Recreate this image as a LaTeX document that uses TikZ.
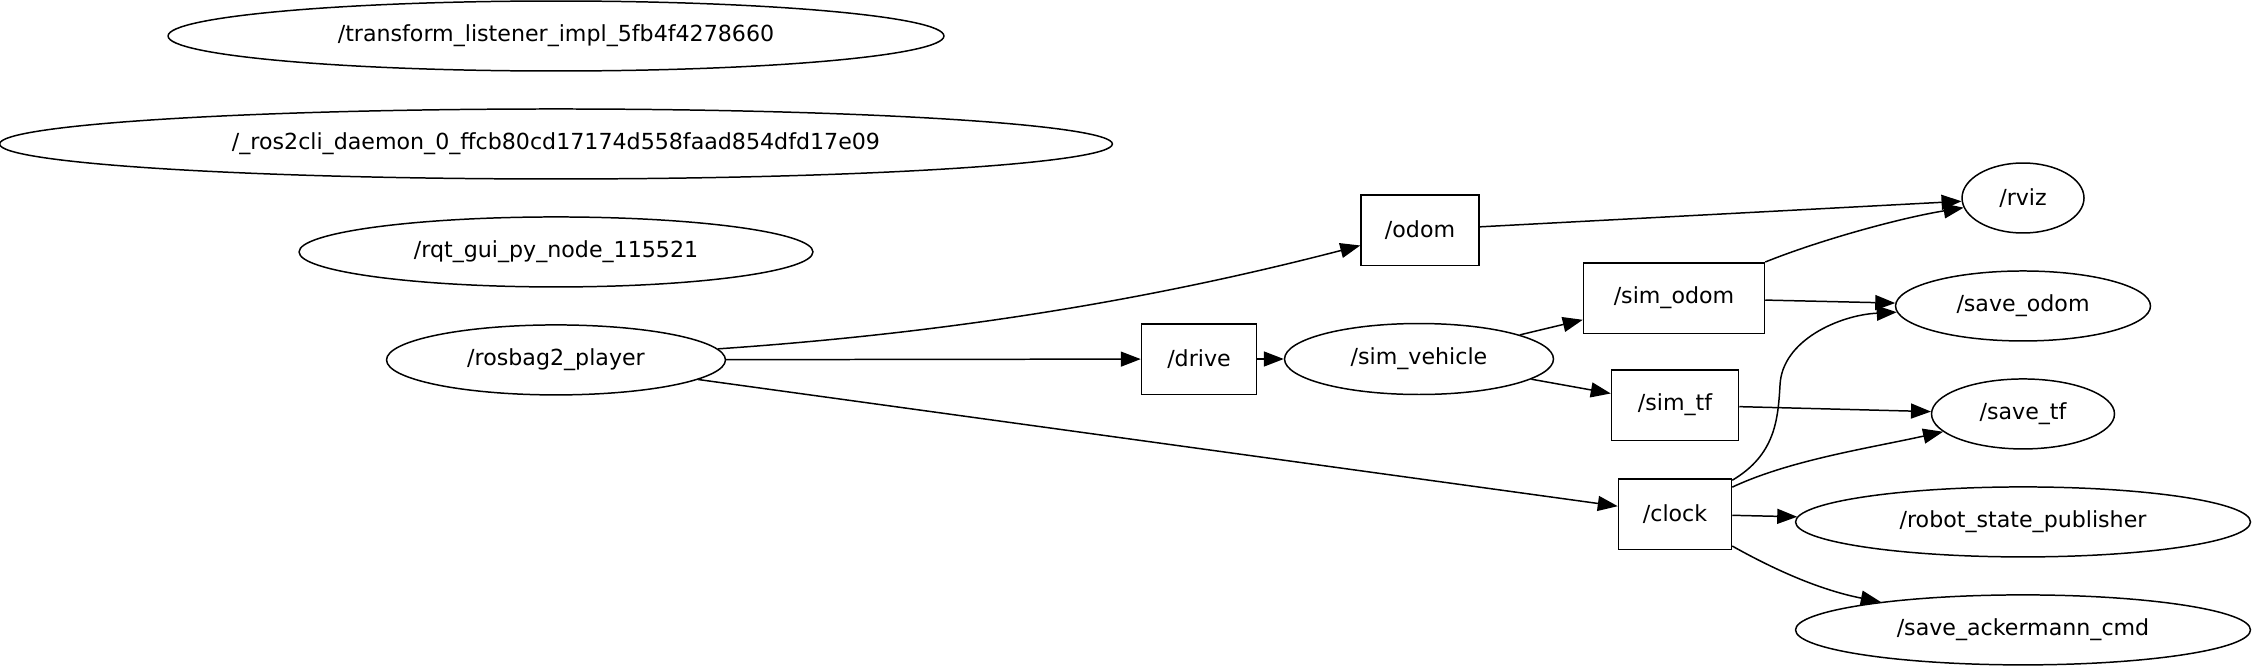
\documentclass[tikz,border=0pt]{standalone}
\usepackage{fontspec}
\setmainfont{DejaVu Sans}
\usetikzlibrary{arrows.meta,positioning,shapes.geometric}
\tikzset{
    rosnode/.style={draw, ellipse, line width=0.85pt, inner sep=0pt,
        minimum height=1.4cm, font=\fontsize{12.6}{15}\selectfont},
    rostopic/.style={draw, rectangle, line width=0.85pt, inner sep=0pt,
        minimum height=1.41cm, font=\fontsize{12.6}{15}\selectfont},
    rosarrow/.style={-{Triangle[length=0.4cm, width=0.3cm]}, line width=0.85pt}
}
\begin{document}
\begin{tikzpicture}[x=0.02cm, y=-0.02cm, node distance=0.73cm]
\useasboundingbox (0,0) rectangle (2253,666);
% left column of nodes
\node[rosnode, minimum width=15.52cm] (listener) at (556,36) {/transform\_listener\_impl\_5fb4f4278660};
\node[rosnode, minimum width=22.26cm, below=of listener] (daemon) {/\_ros2cli\_daemon\_0\_ffcb80cd17174d558faad854dfd17e09};
\node[rosnode, minimum width=10.28cm, below=of daemon] (rqtgui) {/rqt\_gui\_py\_node\_115521};
\node[rosnode, minimum width=6.78cm, below=of rqtgui] (rosbag) {/rosbag2\_player};
% topics
\node[rostopic, minimum width=2.36cm] (odom) at (1420,230) {/odom};
\node[rostopic, minimum width=2.30cm] (drive) at (1199,359) {/drive};
\node[rosnode, minimum width=5.38cm, minimum height=1.42cm] (simvehicle) at (1419,359) {/sim\_vehicle};
\node[rostopic, minimum width=3.62cm] (simodom) at (1674,298) {/sim\_odom};
\node[rostopic, minimum width=2.54cm] (simtf) at (1675,405) {/sim\_tf};
\node[rostopic, minimum width=2.26cm] (clock) at (1675,514) {/clock};
% right column of nodes
\node[rosnode, minimum width=2.44cm] (rviz) at (2023,198) {/rviz};
\node[rosnode, minimum width=5.10cm, below=of rviz] (saveodom) {/save\_odom};
\node[rosnode, minimum width=3.66cm, below=of saveodom] (savetf) {/save\_tf};
\node[rosnode, minimum width=9.10cm, below=of savetf] (statepub) {/robot\_state\_publisher};
\node[rosnode, minimum width=9.10cm, below=of statepub] (saveack) {/save\_ackermann\_cmd};
% connections
\draw[rosarrow] (rosbag) .. controls (950,333) and (1150,300) .. (odom);
\draw[rosarrow] (rosbag) -- (drive);
\draw[rosarrow] (rosbag) -- (clock);
\draw[rosarrow] (odom) -- (rviz);
\draw[rosarrow] (drive) -- (simvehicle);
\draw[rosarrow] (simvehicle) -- (simodom);
\draw[rosarrow] (simvehicle) -- (simtf);
\draw[rosarrow] (simodom.north east) .. controls (1820,240) and (1900,218) .. (rviz);
\draw[rosarrow] (simodom) -- (saveodom);
\draw[rosarrow] (simtf) -- (savetf);
\draw[rosarrow] (clock) .. controls (1775,455) and (1778,420) .. (1780,385)
    .. controls (1782,340) and (1840,315) .. (saveodom);
\draw[rosarrow] (clock) .. controls (1790,460) and (1870,448) .. (savetf);
\draw[rosarrow] (clock) -- (statepub);
\draw[rosarrow] (clock) .. controls (1775,570) and (1820,590) .. (saveack);
\end{tikzpicture}
\end{document}
